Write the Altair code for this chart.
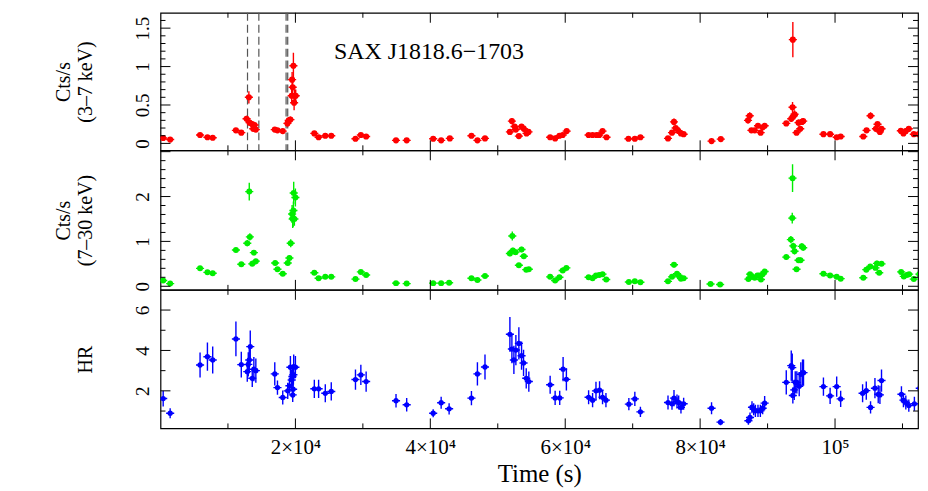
import altair as alt
import pandas as pd

FONT = "Liberation Serif"
T_DOMAIN = [0, 112300]
W = 760
XERR = 600

# ---------------- 3-7 keV count rate (red) ----------------
R_T = [399, 1433,
       5864, 6957, 7739,
       11181, 11978, 12761, 13101, 13204, 13603, 13751, 13943, 14135,
       16941, 17340, 18123, 18817, 19009, 19260, 19452, 19511, 19600, 19703, 19807, 19895, 20043,
       22805, 23440, 24430, 25316,
       28905, 29702, 30485,
       34916, 36497,
       40425, 41607, 42892,
       46097, 46983, 48106,
       51798, 52094, 52493, 52685, 53128, 53526, 53866, 54265, 54560,
       57765, 58504, 59139, 59626, 60217,
       63467, 64057, 64648, 65047, 65534, 66125,
       69375, 70320, 71147,
       75238, 75829, 76125, 76376, 76760, 77158, 77557,
       81693, 83066,
       87099, 87350, 87601, 88088, 88576, 88974, 89270, 89565,
       92770, 93509, 93701, 93745, 93893, 93996, 94292, 94587, 94838, 95074, 95281,
       98280, 99269, 100244, 100835,
       104188, 104675, 105266, 106063, 106300, 106654, 106890,
       109756, 110140, 110494, 110937, 111676, 112414, 112902]
R_V = [0.07, 0.05,
       0.11, 0.08, 0.074,
       0.17, 0.14, 0.32, 0.60, 0.27, 0.25, 0.19, 0.24, 0.18,
       0.18, 0.17, 0.16, 0.26, 0.30, 0.31, 0.62, 0.83, 0.73, 1.01, 0.53, 0.62, 0.62,
       0.13, 0.08, 0.10, 0.10,
       0.06, 0.11, 0.09,
       0.04, 0.04,
       0.06, 0.04, 0.065,
       0.10, 0.04, 0.065,
       0.15, 0.29, 0.22, 0.18, 0.095, 0.22, 0.19, 0.13, 0.15,
       0.08, 0.065, 0.10, 0.11, 0.16,
       0.11, 0.11, 0.11, 0.11, 0.16, 0.08,
       0.06, 0.06, 0.08,
       0.065, 0.14, 0.28, 0.20, 0.165, 0.13, 0.12,
       0.03, 0.056,
       0.30, 0.36, 0.17, 0.17, 0.23, 0.14, 0.21, 0.23,
       0.26, 0.32, 0.47, 1.35, 0.36, 0.38, 0.14, 0.27, 0.19, 0.28, 0.29,
       0.12, 0.12, 0.08, 0.09,
       0.09, 0.17, 0.36, 0.19, 0.25, 0.15, 0.19,
       0.165, 0.13, 0.16, 0.19, 0.12, 0.12, 0.08]
R_E = [0.02, 0.02,
       0.02, 0.02, 0.02,
       0.03, 0.03, 0.04, 0.08, 0.04, 0.04, 0.03, 0.04, 0.03,
       0.03, 0.03, 0.03, 0.04, 0.04, 0.04, 0.08, 0.10, 0.10, 0.17, 0.10, 0.08, 0.08,
       0.02, 0.02, 0.02, 0.02,
       0.02, 0.02, 0.02,
       0.02, 0.02,
       0.02, 0.02, 0.02,
       0.02, 0.02, 0.02,
       0.03, 0.04, 0.03, 0.03, 0.02, 0.03, 0.03, 0.02, 0.02,
       0.02, 0.02, 0.02, 0.02, 0.02,
       0.02, 0.02, 0.02, 0.02, 0.02, 0.02,
       0.02, 0.02, 0.02,
       0.02, 0.03, 0.045, 0.03, 0.03, 0.02, 0.02,
       0.02, 0.02,
       0.04, 0.045, 0.03, 0.03, 0.03, 0.02, 0.03, 0.03,
       0.03, 0.04, 0.07, 0.23, 0.05, 0.05, 0.03, 0.04, 0.03, 0.04, 0.04,
       0.02, 0.02, 0.02, 0.02,
       0.02, 0.03, 0.045, 0.03, 0.03, 0.02, 0.03,
       0.02, 0.02, 0.02, 0.03, 0.02, 0.02, 0.02]

# ---------------- 7-30 keV count rate (green) ----------------
G_T = [399, 1433,
       5864, 6957, 7739,
       11181, 11978, 12864, 13160, 13249, 13603, 13840, 14135,
       17000, 17340, 18123, 18862, 19112, 19304, 19511, 19600, 19659, 19703, 19748, 19851, 19999,
       22805, 23440, 24430, 25316,
       28905, 29702, 30485,
       34916, 36497,
       40425, 41607, 42788,
       46097, 46983, 48106,
       51798, 52153, 52242, 52640, 53128, 53526, 53866, 54220, 54604,
       57765, 58504, 59139, 59626, 60173,
       63467, 64057, 64559, 65047, 65534, 66080,
       69434, 70320, 71147,
       75238, 75829, 76125, 76569, 76820, 77158, 77557,
       81545, 82963,
       87158, 87394, 87690, 88088, 88487, 88782, 89019, 89270, 89565,
       92770, 93450, 93657, 93701, 93805, 93996, 94292, 94587, 94883, 95074, 95281,
       98280, 99269, 100244, 100835,
       104188, 104631, 105222, 106004, 106211, 106551, 106890,
       109800, 110199, 110642, 110981, 111676, 112503, 112902]
G_V = [0.13, 0.06,
       0.40, 0.31, 0.29,
       0.81, 0.49, 0.96, 2.11, 1.10, 0.50, 0.75, 0.56,
       0.52, 0.38, 0.28, 0.52, 0.63, 0.96, 1.61, 1.50, 1.52, 1.69, 2.08, 1.50, 1.98,
       0.30, 0.18, 0.21, 0.21,
       0.16, 0.32, 0.25,
       0.07, 0.06,
       0.07, 0.07, 0.08,
       0.18, 0.14, 0.23,
       0.73, 1.12, 0.80, 0.76, 0.47, 0.82, 0.67, 0.37, 0.38,
       0.21, 0.13, 0.20, 0.35, 0.41,
       0.20, 0.18, 0.24, 0.25, 0.27, 0.15,
       0.095, 0.11, 0.09,
       0.11, 0.21, 0.48, 0.28, 0.24, 0.17, 0.18,
       0.05, 0.04,
       0.16, 0.27, 0.21, 0.19, 0.24, 0.24, 0.15, 0.27, 0.33,
       0.65, 1.04, 1.52, 2.41, 0.90, 0.78, 0.38, 0.58, 0.58, 0.89, 0.86,
       0.28, 0.24, 0.21, 0.17,
       0.19, 0.37, 0.44, 0.41, 0.51, 0.30, 0.50,
       0.32, 0.22, 0.25, 0.27, 0.16, 0.27, 0.12]
G_E = [0.04, 0.04,
       0.04, 0.04, 0.04,
       0.05, 0.05, 0.07, 0.20, 0.08, 0.05, 0.06, 0.05,
       0.05, 0.04, 0.04, 0.05, 0.06, 0.09, 0.20, 0.20, 0.20, 0.20, 0.25, 0.15, 0.20,
       0.04, 0.04, 0.04, 0.04,
       0.04, 0.04, 0.04,
       0.03, 0.03,
       0.03, 0.03, 0.03,
       0.04, 0.04, 0.04,
       0.06, 0.10, 0.06, 0.06, 0.05, 0.06, 0.06, 0.05, 0.05,
       0.04, 0.04, 0.04, 0.04, 0.04,
       0.04, 0.04, 0.04, 0.04, 0.04, 0.04,
       0.03, 0.03, 0.03,
       0.04, 0.04, 0.06, 0.05, 0.05, 0.04, 0.04,
       0.03, 0.03,
       0.04, 0.04, 0.04, 0.04, 0.04, 0.04, 0.04, 0.04, 0.04,
       0.06, 0.08, 0.12, 0.31, 0.07, 0.07, 0.05, 0.06, 0.06, 0.07, 0.07,
       0.04, 0.04, 0.04, 0.04,
       0.04, 0.05, 0.05, 0.05, 0.06, 0.04, 0.05,
       0.04, 0.04, 0.04, 0.04, 0.04, 0.04, 0.04]

# ---------------- hardness ratio (blue) ----------------
B_T = [399, 1433,
       5864, 6957, 7739,
       11181, 11978, 12864, 13012, 13160, 13308, 13603, 13840, 14135,
       16941, 17340, 18123, 18862, 19112, 19260, 19452, 19555, 19600, 19659, 19703, 19748, 19999,
       22805, 23440, 24430, 25316,
       28905, 29702, 30485,
       34916, 36497,
       40425, 41607, 42788,
       46097, 46983, 48106,
       51798, 52094, 52390, 52685, 53128, 53526, 53821, 54220, 54604,
       57765, 58504, 59183, 59685, 60173,
       63467, 64057, 64559, 65091, 65534, 66036,
       69434, 70320, 71147,
       75238, 75829, 76125, 76569, 76820, 77158, 77557,
       81693, 83022,
       87158, 87394, 87690, 87941, 88192, 88576, 88930, 89270, 89565,
       92770, 93509, 93657, 93745, 93952, 94100, 94336, 94690, 94928, 95179, 95326,
       98280, 99269, 100244, 100835,
       104085, 104631, 105266, 105916, 106403, 106654, 106890,
       109844, 110140, 110494, 110937, 111765, 112562, 112857]
B_V = [1.62, 0.89,
       3.28, 3.69, 3.53,
       4.57, 3.30, 2.95, 3.31, 3.53, 4.19, 2.62, 3.07, 3.00,
       2.84, 2.16, 1.67, 2.00, 2.25, 3.17, 2.54, 2.71, 1.80, 2.08, 2.80, 3.20, 3.17,
       2.10, 2.10, 1.88, 1.97,
       2.56, 2.79, 2.46,
       1.51, 1.31,
       0.89, 1.41, 1.11,
       1.64, 2.84, 3.18,
       4.80, 4.07, 3.53, 4.02, 4.35, 3.74, 3.38, 2.62, 2.46,
       2.30, 1.65, 1.65, 3.07, 2.57,
       1.68, 1.54, 2.00, 2.03, 1.68, 1.54,
       1.34, 1.60, 0.96,
       1.42, 1.36, 1.64, 1.47, 1.42, 1.18, 1.36,
       1.14, 0.45,
       0.52, 0.68, 1.19, 1.09, 1.01, 1.01, 1.01, 1.14, 1.39,
       2.42, 3.25, 3.15, 1.77, 2.05, 2.42, 2.42, 2.23, 2.82, 2.90, 2.90,
       2.21, 1.75, 2.21, 1.60,
       1.88, 2.01, 1.18, 2.13, 1.83, 1.80, 2.51,
       1.83, 1.54, 1.42, 1.27, 1.36, 2.13, 1.31]
B_E = [0.39, 0.25,
       0.62, 0.70, 0.67,
       0.86, 0.64, 0.50, 0.60, 0.65, 0.80, 0.43, 0.60, 0.60,
       0.58, 0.35, 0.35, 0.40, 0.40, 0.55, 0.50, 0.50, 0.35, 0.40, 0.50, 0.60, 0.55,
       0.45, 0.45, 0.45, 0.45,
       0.50, 0.50, 0.50,
       0.33, 0.33,
       0.20, 0.30, 0.28,
       0.35, 0.57, 0.62,
       0.86, 0.70, 0.70, 0.75, 0.80, 0.70, 0.65, 0.50, 0.50,
       0.45, 0.35, 0.35, 0.60, 0.55,
       0.35, 0.35, 0.45, 0.45, 0.35, 0.35,
       0.30, 0.35, 0.25,
       0.35, 0.30, 0.40, 0.35, 0.35, 0.30, 0.30,
       0.30, 0.15,
       0.20, 0.25, 0.30, 0.30, 0.30, 0.30, 0.30, 0.30, 0.35,
       0.60, 0.75, 0.70, 0.40, 0.50, 0.55, 0.55, 0.50, 0.60, 0.65, 0.65,
       0.45, 0.40, 0.50, 0.40,
       0.45, 0.45, 0.30, 0.50, 0.45, 0.45, 0.55,
       0.40, 0.35, 0.35, 0.30, 0.35, 0.45, 0.35]

# ---------------- axes / annotations ----------------
X_MAJOR = [20000, 40000, 60000, 80000, 100000]
X_MINOR = [10000, 30000, 50000, 70000, 90000, 110000]

TOP_LABELS = [0, 0.5, 1, 1.5]
TOP_MINOR = [0.1, 0.2, 0.3, 0.4, 0.6, 0.7, 0.8, 0.9, 1.1, 1.2, 1.3, 1.4, 1.6]
MID_LABELS = [0, 1, 2]
MID_MAJOR = [0, 1, 2, 3]
MID_MINOR = [0.2, 0.4, 0.6, 0.8, 1.2, 1.4, 1.6, 1.8, 2.2, 2.4, 2.6, 2.8]
BOT_LABELS = [2, 4, 6]
BOT_MINOR = [1, 3, 5]

DASH_T = [12900, 14580, 18620, 18860]
SOURCE = "SAX J1818.6\u22121703"
SOURCE_T = 39800
SOURCE_V = 1.10

X_LABEL_EXPR = ("datum.value == 100000 ? '10\u2075' : "
                "format(datum.value / 10000, 'd') + '\u00d710\u2074'")


def panel(t, v, e, color, size, ydomain, height, ytitle, ylabels, ymajor, yminor,
          xaxis, extra_back=(), extra_front=()):
    df = pd.DataFrame({"t": t, "v": v, "e": e})
    df["lo"] = df["v"] - df["e"]
    df["hi"] = df["v"] + df["e"]
    df["tl"] = df["t"] - XERR
    df["tr"] = df["t"] + XERR
    xs = alt.Scale(domain=T_DOMAIN, nice=False, zero=False)
    ys = alt.Scale(domain=ydomain, nice=False, zero=False)
    yax = alt.Axis(title=ytitle, values=ylabels, format="~g", ticks=False,
                   domain=False, grid=False, labelAngle=270, labelAlign="center",
                   labelBaseline="bottom", labelPadding=8, titlePadding=38)
    X = lambda f: alt.X(f, type="quantitative", scale=xs, axis=xaxis)
    Y = lambda f: alt.Y(f, type="quantitative", scale=ys, axis=yax)
    tick = dict(color="black", strokeWidth=1)

    xmaj = alt.Chart(pd.DataFrame({"t": X_MAJOR}))
    xmin = alt.Chart(pd.DataFrame({"t": X_MINOR}))
    ymj = alt.Chart(pd.DataFrame({"v": ymajor}))
    ymn = alt.Chart(pd.DataFrame({"v": yminor}))
    ticks = [
        xmaj.mark_rule(**tick).encode(x=X("t"), y=alt.value(height), y2=alt.value(height - 10)),
        xmaj.mark_rule(**tick).encode(x=X("t"), y=alt.value(0), y2=alt.value(10)),
        xmin.mark_rule(**tick).encode(x=X("t"), y=alt.value(height), y2=alt.value(height - 5)),
        xmin.mark_rule(**tick).encode(x=X("t"), y=alt.value(0), y2=alt.value(5)),
        ymj.mark_rule(**tick).encode(y=Y("v"), x=alt.value(0), x2=alt.value(10)),
        ymj.mark_rule(**tick).encode(y=Y("v"), x=alt.value(W), x2=alt.value(W - 10)),
        ymn.mark_rule(**tick).encode(y=Y("v"), x=alt.value(0), x2=alt.value(5)),
        ymn.mark_rule(**tick).encode(y=Y("v"), x=alt.value(W), x2=alt.value(W - 5)),
    ]
    base = alt.Chart(df)
    yerr = base.mark_rule(color=color, strokeWidth=1.4, clip=True).encode(
        x=X("t"), y=Y("lo"), y2="hi:Q")
    xerr = base.mark_rule(color=color, strokeWidth=1.4, clip=True).encode(
        x=X("tl"), x2="tr:Q", y=Y("v"))
    pts = base.mark_circle(color=color, size=size, opacity=1, clip=True).encode(
        x=X("t"), y=Y("v"))
    back = [f(X, Y, height) for f in extra_back]
    front = [f(X, Y, height) for f in extra_front]
    return alt.layer(*back, yerr, xerr, pts, *ticks, *front).properties(
        width=W, height=height)


def dashes(X, Y, height):
    return alt.Chart(pd.DataFrame({"t": DASH_T})).mark_rule(
        color="#555555", strokeDash=[8, 4], strokeWidth=1.2).encode(
        x=X("t"), y=alt.value(0), y2=alt.value(height))


def source_label(X, Y, height):
    return alt.Chart(pd.DataFrame({"t": [SOURCE_T], "v": [SOURCE_V], "s": [SOURCE]})).mark_text(
        font=FONT, fontSize=24, align="center", baseline="alphabetic", color="black").encode(
        x=X("t"), y=Y("v"), text="s:N")


top = panel(R_T, R_V, R_E, "#ff0000", 38, [-0.09, 1.70], 138,
            ["Cts/s", "(3\u20137 keV)"], TOP_LABELS, TOP_LABELS, TOP_MINOR, None,
            extra_back=[dashes], extra_front=[source_label])
mid = panel(G_T, G_V, G_E, "#00ee00", 36, [-0.08, 3.03], 140,
            ["Cts/s", "(7\u201330 keV)"], MID_LABELS, MID_MAJOR, MID_MINOR, None)
xax = alt.Axis(title="Time (s)", values=X_MAJOR, labelExpr=X_LABEL_EXPR, ticks=False,
               domain=False, grid=False, labelPadding=8, titlePadding=4,
               labelFontSize=21, titleFontSize=25, labelFlush=False)
bot = panel(B_T, B_V, B_E, "#0000ff", 28, [0.14, 7.0], 139,
            "HR", BOT_LABELS, BOT_LABELS, BOT_MINOR, xax)

chart = alt.vconcat(top, mid, bot, spacing=0, bounds="flush").properties(
    padding={"left": 45, "top": 2, "right": 0, "bottom": 0}
).configure_view(stroke="black", strokeWidth=1.2).configure_axis(
    labelFont=FONT, titleFont=FONT, labelFontSize=19, titleFontSize=20,
    titleFontWeight="normal", labelColor="black", titleColor="black"
)

chart.save("out.html", embed_options={"renderer": "svg", "actions": False})
